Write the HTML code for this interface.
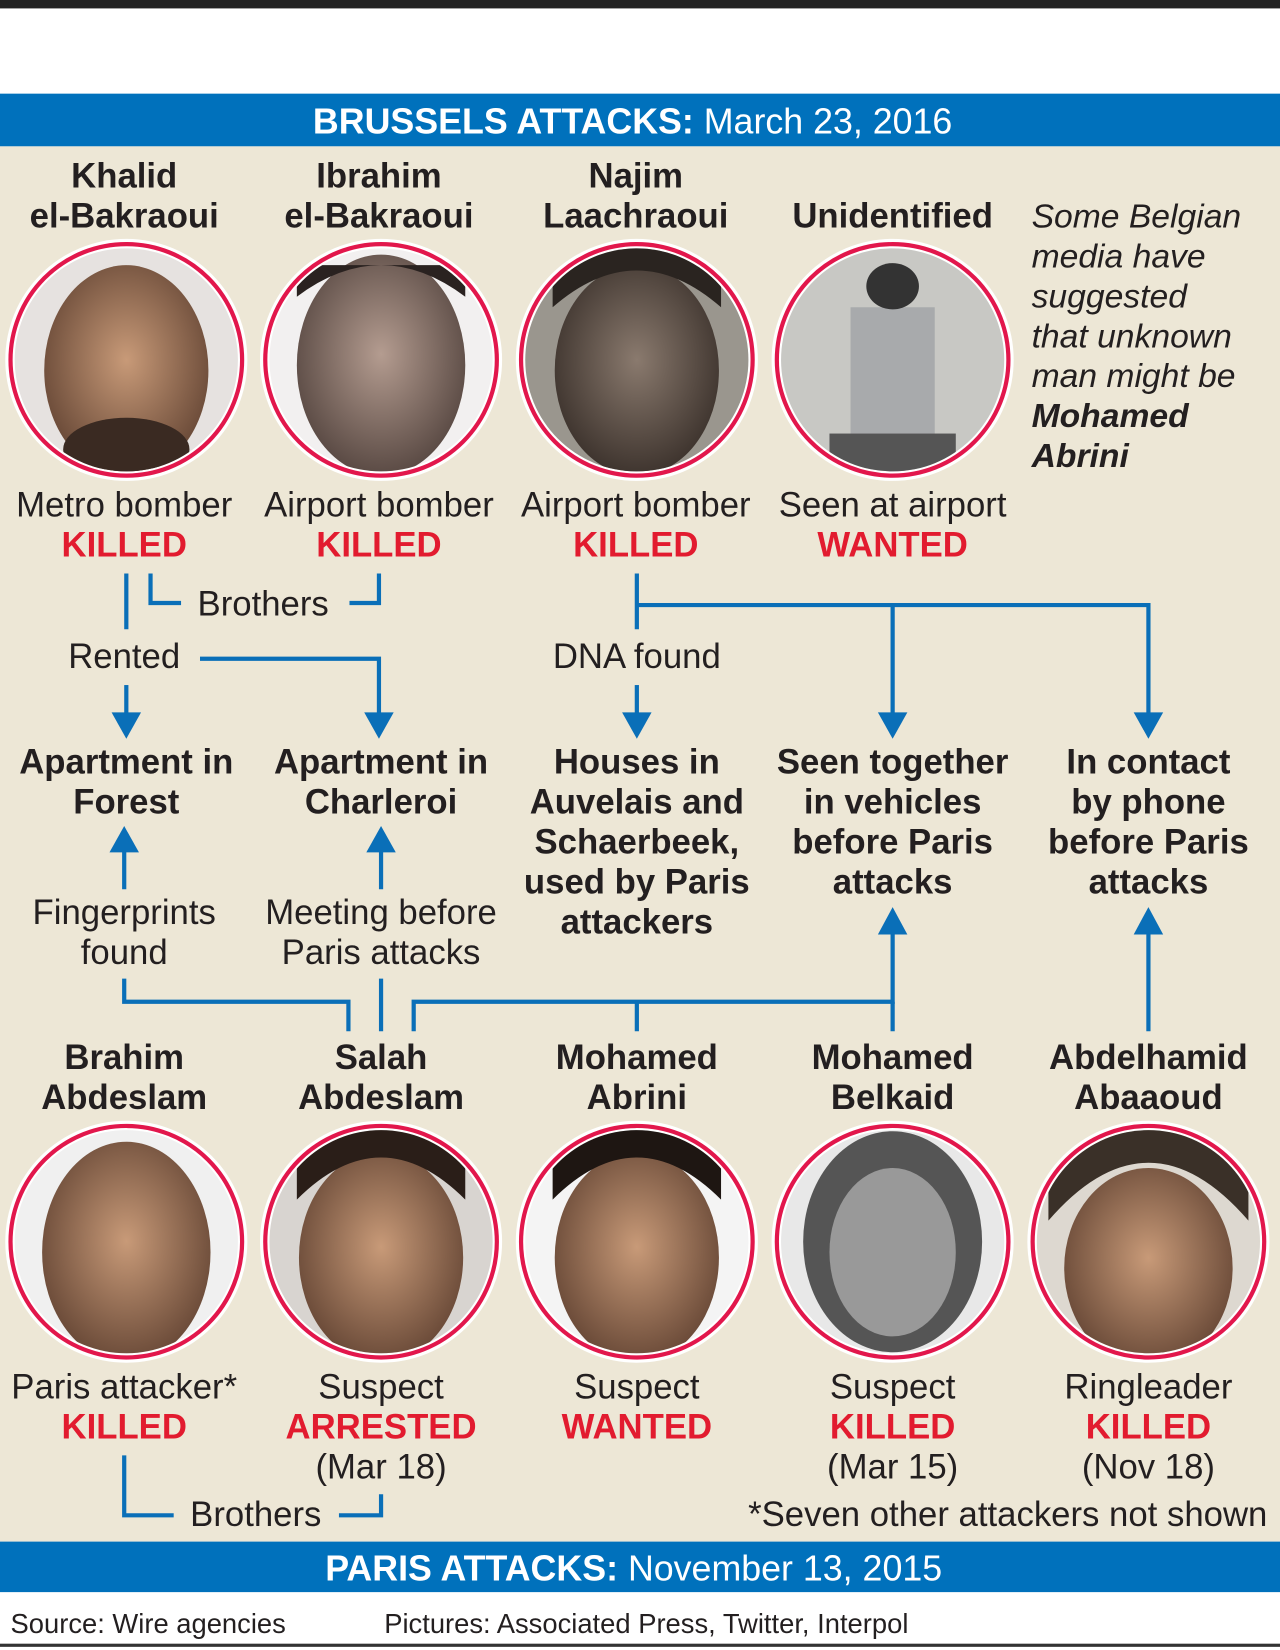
<!DOCTYPE html>
<html><head><meta charset="utf-8"><style>
html,body{margin:0;padding:0;background:#fff}
svg{display:block}
text{font-family:"Liberation Sans",Arial,sans-serif;fill:#231f20}
.n{font-weight:bold;font-size:33px;text-anchor:middle}
.l{font-size:33px;text-anchor:middle}
.r{font-weight:bold;font-size:33px;text-anchor:middle;fill:#e21b2f}
.it{font-style:italic;font-size:32px}
.w{fill:#fff}
</style></head><body>
<svg width="1280" height="1650" viewBox="0 0 1216 1568" preserveAspectRatio="none">
<defs>
<radialGradient id="skin1" cx="50%" cy="45%" r="55%"><stop offset="0" stop-color="#c89a78"/><stop offset="1" stop-color="#6a4a38"/></radialGradient>
<radialGradient id="skin2" cx="50%" cy="45%" r="55%"><stop offset="0" stop-color="#b49c90"/><stop offset="1" stop-color="#5a4a44"/></radialGradient>
<radialGradient id="skin3" cx="50%" cy="45%" r="55%"><stop offset="0" stop-color="#8a7a6e"/><stop offset="1" stop-color="#3e342e"/></radialGradient>
<clipPath id="c"><circle cx="0" cy="0" r="106"/></clipPath>
<g id="ring"><circle r="115" fill="#fff"/><circle r="110" fill="none" stroke="#e2174c" stroke-width="4"/></g>
</defs>
<rect width="1216" height="1568" fill="#fff"/>
<rect width="1216" height="8" fill="#222"/>
<rect y="139" width="1216" height="1326" fill="#ede7d6"/>
<rect y="89" width="1216" height="50" fill="#0071bc"/>
<text x="601" y="127" text-anchor="middle" font-size="34" class="w"><tspan font-weight="bold" class="w">BRUSSELS ATTACKS:</tspan> March 23, 2016</text>
<rect y="1465" width="1216" height="48" fill="#0071bc"/>
<text x="602" y="1502" text-anchor="middle" font-size="34" class="w"><tspan font-weight="bold" class="w">PARIS ATTACKS:</tspan> November 13, 2015</text>
<text x="10" y="1552" font-size="26">Source: Wire agencies</text>
<text x="365" y="1552" font-size="26">Pictures: Associated Press, Twitter, Interpol</text>
<rect y="1562" width="1216" height="3" fill="#333"/>

<text class="n" x="118" y="178">Khalid</text><text class="n" x="118" y="216">el-Bakraoui</text>
<text class="n" x="360" y="178">Ibrahim</text><text class="n" x="360" y="216">el-Bakraoui</text>
<text class="n" x="604" y="178">Najim</text><text class="n" x="604" y="216">Laachraoui</text>
<text class="n" x="848" y="216">Unidentified</text>
<g><text x="980" y="216" class="it">Some Belgian</text><text x="980" y="254" class="it">media have</text><text x="980" y="292" class="it">suggested</text><text x="980" y="330" class="it">that unknown</text><text x="980" y="368" class="it">man might be</text><text x="980" y="406" class="it" font-weight="bold">Mohamed</text><text x="980" y="444" class="it" font-weight="bold">Abrini</text></g>

<g transform="translate(120,342)"><use href="#ring"/><g clip-path="url(#c)"><rect x="-110" y="-110" width="220" height="220" fill="#e6e2e0"/><ellipse cx="0" cy="10" rx="78" ry="100" fill="url(#skin1)"/><ellipse cx="0" cy="85" rx="60" ry="30" fill="#3a2a22"/></g></g>
<g transform="translate(362,342)"><use href="#ring"/><g clip-path="url(#c)"><rect x="-110" y="-110" width="220" height="220" fill="#f2f0f0"/><ellipse cx="0" cy="5" rx="80" ry="105" fill="url(#skin2)"/><path d="M-80,-60 Q0,-120 80,-60 L80,-90 L-80,-90z" fill="#2a2220"/></g></g>
<g transform="translate(605,342)"><use href="#ring"/><g clip-path="url(#c)"><rect x="-110" y="-110" width="220" height="220" fill="#9a968e"/><ellipse cx="0" cy="10" rx="78" ry="100" fill="url(#skin3)"/><path d="M-80,-50 Q0,-120 80,-50 L80,-110 L-80,-110z" fill="#2a2420"/></g></g>
<g transform="translate(848,342)"><use href="#ring"/><g clip-path="url(#c)"><rect x="-110" y="-110" width="220" height="220" fill="#c8c8c4"/><rect x="-40" y="-50" width="80" height="120" fill="#a8aaac"/><ellipse cx="0" cy="-70" rx="25" ry="22" fill="#333"/><rect x="-60" y="70" width="120" height="40" fill="#555"/></g></g>

<text class="l" x="118" y="491">Metro bomber</text><text class="r" x="118" y="529">KILLED</text>
<text class="l" x="360" y="491">Airport bomber</text><text class="r" x="360" y="529">KILLED</text>
<text class="l" x="604" y="491">Airport bomber</text><text class="r" x="604" y="529">KILLED</text>
<text class="l" x="848" y="491">Seen at airport</text><text class="r" x="848" y="529">WANTED</text>

<g stroke="#0a6fb8" stroke-width="4" fill="none">
<path d="M120,545 V598"/>
<path d="M143,545 V573 H172"/><path d="M332,573 H360 V545"/>
<path d="M120,651 V690"/>
<path d="M190,626 H360 V690"/>
<path d="M605,545 V598"/>
<path d="M605,575 H1091 V690"/>
<path d="M848,575 V690"/>
<path d="M605,651 V690"/>
<path d="M118,845 V797"/>
<path d="M362,845 V797"/>
<path d="M1091,980 V872"/>
<path d="M118,930 V952 H331 V980"/>
<path d="M362,930 V980"/>
<path d="M393,980 V952 H848 V872"/>
<path d="M848,952 V980"/>
<path d="M605,952 V980"/>
<path d="M118,1383 V1440 H165"/><path d="M322,1440 H362 V1420"/>
</g>
<g fill="#0a6fb8">
<path d="M106,677 L134,677 L120,702z"/><path d="M346,677 L374,677 L360,702z"/><path d="M591,677 L619,677 L605,702z"/><path d="M834,677 L862,677 L848,702z"/><path d="M1077,677 L1105,677 L1091,702z"/>
<path d="M104,810 L132,810 L118,785z"/><path d="M348,810 L376,810 L362,785z"/><path d="M834,888 L862,888 L848,862z"/><path d="M1077,888 L1105,888 L1091,862z"/>
</g>
<text class="l" x="250" y="585">Brothers</text>
<text class="l" x="118" y="635">Rented</text>
<text class="l" x="605" y="635">DNA found</text>

<text class="n" x="120" y="735">Apartment in</text><text class="n" x="120" y="773">Forest</text>
<text class="n" x="362" y="735">Apartment in</text><text class="n" x="362" y="773">Charleroi</text>
<text class="n" x="605" y="735">Houses in</text><text class="n" x="605" y="773">Auvelais and</text><text class="n" x="605" y="811">Schaerbeek,</text><text class="n" x="605" y="849">used by Paris</text><text class="n" x="605" y="887">attackers</text>
<text class="n" x="848" y="735">Seen together</text><text class="n" x="848" y="773">in vehicles</text><text class="n" x="848" y="811">before Paris</text><text class="n" x="848" y="849">attacks</text>
<text class="n" x="1091" y="735">In contact</text><text class="n" x="1091" y="773">by phone</text><text class="n" x="1091" y="811">before Paris</text><text class="n" x="1091" y="849">attacks</text>

<text class="l" x="118" y="878">Fingerprints</text><text class="l" x="118" y="916">found</text>
<text class="l" x="362" y="878">Meeting before</text><text class="l" x="362" y="916">Paris attacks</text>

<text class="n" x="118" y="1016">Brahim</text><text class="n" x="118" y="1054">Abdeslam</text>
<text class="n" x="362" y="1016">Salah</text><text class="n" x="362" y="1054">Abdeslam</text>
<text class="n" x="605" y="1016">Mohamed</text><text class="n" x="605" y="1054">Abrini</text>
<text class="n" x="848" y="1016">Mohamed</text><text class="n" x="848" y="1054">Belkaid</text>
<text class="n" x="1091" y="1016">Abdelhamid</text><text class="n" x="1091" y="1054">Abaaoud</text>

<g transform="translate(120,1180)"><use href="#ring"/><g clip-path="url(#c)"><rect x="-110" y="-110" width="220" height="220" fill="#f0f0f0"/><ellipse cx="0" cy="10" rx="80" ry="105" fill="url(#skin1)"/></g></g>
<g transform="translate(362,1180)"><use href="#ring"/><g clip-path="url(#c)"><rect x="-110" y="-110" width="220" height="220" fill="#d8d4d0"/><ellipse cx="0" cy="15" rx="78" ry="100" fill="url(#skin1)"/><path d="M-80,-40 Q0,-120 80,-40 L80,-110 L-80,-110z" fill="#2a1e18"/></g></g>
<g transform="translate(605,1180)"><use href="#ring"/><g clip-path="url(#c)"><rect x="-110" y="-110" width="220" height="220" fill="#f4f4f4"/><ellipse cx="0" cy="15" rx="78" ry="100" fill="url(#skin1)"/><path d="M-80,-40 Q0,-120 80,-40 L80,-110 L-80,-110z" fill="#1e1612"/></g></g>
<g transform="translate(848,1180)"><use href="#ring"/><g clip-path="url(#c)"><rect x="-110" y="-110" width="220" height="220" fill="#e8e8e8"/><ellipse cx="0" cy="0" rx="85" ry="105" fill="#555"/><ellipse cx="0" cy="10" rx="60" ry="80" fill="#999"/></g></g>
<g transform="translate(1091,1180)"><use href="#ring"/><g clip-path="url(#c)"><rect x="-110" y="-110" width="220" height="220" fill="#ddd8d0"/><ellipse cx="0" cy="25" rx="80" ry="95" fill="url(#skin1)"/><path d="M-95,-20 Q0,-130 95,-20 L95,-110 L-95,-110z" fill="#3a3028"/></g></g>

<text class="l" x="118" y="1329">Paris attacker*</text><text class="r" x="118" y="1367">KILLED</text>
<text class="l" x="362" y="1329">Suspect</text><text class="r" x="362" y="1367">ARRESTED</text><text class="l" x="362" y="1405">(Mar 18)</text>
<text class="l" x="605" y="1329">Suspect</text><text class="r" x="605" y="1367">WANTED</text>
<text class="l" x="848" y="1329">Suspect</text><text class="r" x="848" y="1367">KILLED</text><text class="l" x="848" y="1405">(Mar 15)</text>
<text class="l" x="1091" y="1329">Ringleader</text><text class="r" x="1091" y="1367">KILLED</text><text class="l" x="1091" y="1405">(Nov 18)</text>
<text class="l" x="243" y="1450">Brothers</text>
<text x="1204" y="1450" font-size="33" text-anchor="end">*Seven other attackers not shown</text>
</svg>
</body></html>
